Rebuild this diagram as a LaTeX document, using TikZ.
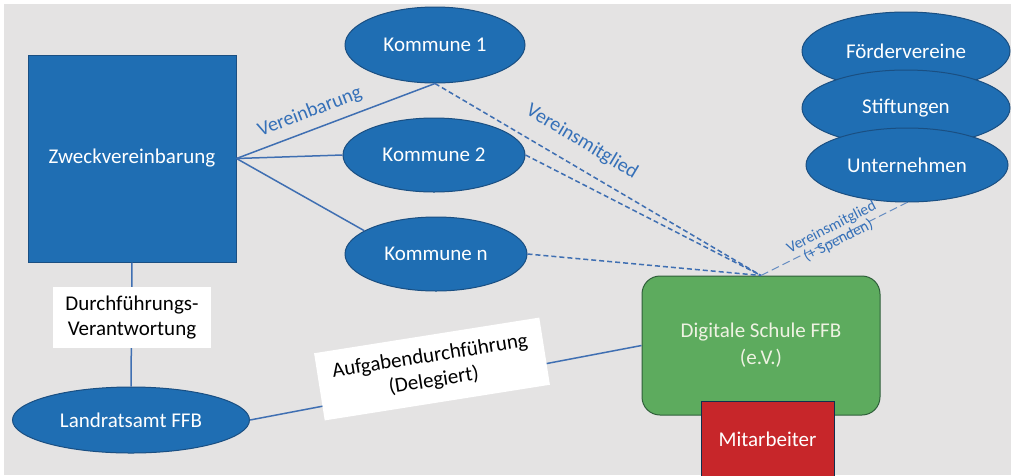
\documentclass[tikz,border=0pt]{standalone}
\usepackage{fontspec}
\setmainfont{Carlito}
\usetikzlibrary{shapes.geometric}
\definecolor{bgc}{HTML}{E4E3E3}
\definecolor{bluef}{HTML}{1F6EB3}
\definecolor{blued}{HTML}{1A4F82}
\definecolor{linec}{HTML}{3F6FB2}
\definecolor{labc}{HTML}{3570B8}
\definecolor{greenf}{HTML}{5DAB5E}
\definecolor{greend}{HTML}{2F5F3A}
\definecolor{redf}{HTML}{C7262A}
\definecolor{txtg}{HTML}{EEF2E2}
\tikzset{
  bigfont/.style={font=\fontsize{21}{25}\selectfont},
  ell/.style={ellipse, fill=bluef, draw=blued, line width=1pt, inner sep=0pt, text=white, bigfont},
  sq/.style={rectangle, fill=bluef, draw=blued, line width=1pt, inner sep=0pt, text=white, bigfont},
  lbox/.style={rectangle, fill=white, inner sep=0pt, text=black, bigfont, align=center},
  conn/.style={draw=linec, line width=1.5pt},
  dconn/.style={draw=linec, line width=1.5pt, dash pattern=on 5pt off 3pt},
  dthin/.style={draw=linec!80, line width=1pt, dash pattern=on 8pt off 4pt},
  blab/.style={text=labc, inner sep=0pt},
}
\begin{document}
\begin{tikzpicture}[x=1pt,y=-1pt]
\useasboundingbox (0,0) rectangle (1011,475);
\fill[bgc] (4,4) rectangle (1011,475);

% nodes
\node[sq, minimum width=208pt, minimum height=207pt] (zw) at (132,158.5) {Zweckvereinbarung};
\node[ell, minimum width=180pt, minimum height=76pt] (k1) at (435,45) {Kommune 1};
\node[ell, minimum width=182pt, minimum height=74pt] (k2) at (434,155) {Kommune 2};
\node[ell, minimum width=182pt, minimum height=74pt] (kn) at (436,254) {Kommune n};
\node[ell, minimum width=237pt, minimum height=66pt] (lra) at (131,420) {Landratsamt FFB};
\node[ell, minimum width=208pt, minimum height=78pt] (fv) at (906,51) {Fördervereine};
\node[ell, minimum width=208pt, minimum height=76pt] (st) at (906,108) {Stiftungen};
\node[ell, minimum width=202pt, minimum height=74pt] (un) at (907,165) {Unternehmen};

\node[rectangle, rounded corners=18pt, fill=greenf, draw=greend, line width=1pt,
      minimum width=238pt, minimum height=139pt, text=txtg, bigfont, align=center]
      (gs) at (761,345.5) {Digitale Schule FFB\\[2pt](e.V.)};
\node[rectangle, fill=redf, draw=blued!60!black, line width=0.8pt,
      minimum width=133pt, minimum height=76pt, text=white, bigfont]
      (ma) at (767.5,439) {Mitarbeiter};

% connectors
\draw[conn] (zw.east) -- (k1.south);
\draw[conn] (zw.east) -- (k2.west);
\draw[conn] (zw.east) -- (kn.162);
\draw[conn] (zw.south) -- (lra.north);
\draw[conn] (lra.east) -- (gs.west);
\draw[dconn] (k1.south) -- (gs.north);
\draw[dconn] (k2.east) -- (gs.north);
\draw[dconn] (kn.east) -- (gs.north);
\draw[dthin] (gs.north) -- (un.south);

% labels
\node[lbox, minimum width=158pt, minimum height=61pt] (dv) at (132,317.5) {Durchführungs-\\Verantwortung};
\node[lbox, minimum width=228pt, minimum height=68pt, rotate=9] (ad) at (432,369) {Aufgabendurchführung\\(Delegiert)};
\node[blab, rotate=21, font=\fontsize{20}{24}\selectfont] (lv) at (310,112) {Vereinbarung};
\node[blab, rotate=-31, font=\fontsize{20}{24}\selectfont] (lm) at (582,142) {Vereinsmitglied};
\node[blab, rotate=27, align=center, font=\fontsize{15.5}{15}\selectfont] (ls) at (835,234) {Vereinsmitglied\\(+ Spenden)};
\end{tikzpicture}
\end{document}
